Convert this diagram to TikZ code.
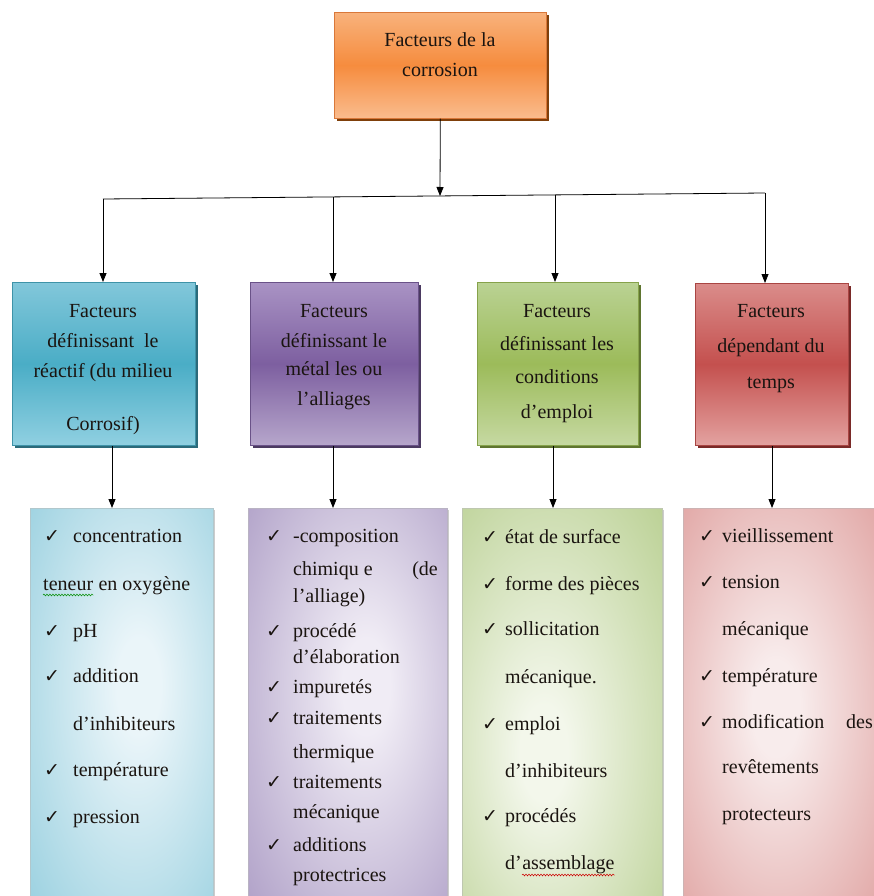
\documentclass[tikz,border=0pt]{standalone}
\usepackage{fontspec}
\setmainfont{Liberation Serif}
\newfontfamily\chkfont{DejaVu Sans}
\usetikzlibrary{arrows.meta,shadows,decorations.pathmorphing}
\definecolor{orT}{HTML}{F8B27C}\definecolor{orM}{HTML}{F68C3E}\definecolor{orB}{HTML}{FABC8E}\definecolor{orS}{HTML}{7F3F0A}\definecolor{orD}{HTML}{D9783A}
\definecolor{blT}{HTML}{82C7DA}\definecolor{blM}{HTML}{4AADC6}\definecolor{blB}{HTML}{90D0E1}\definecolor{blS}{HTML}{2B6A7A}\definecolor{blD}{HTML}{3E93A8}
\definecolor{puT}{HTML}{A993C4}\definecolor{puM}{HTML}{7D5FA0}\definecolor{puB}{HTML}{B6A6CB}\definecolor{puS}{HTML}{4B3A61}\definecolor{puD}{HTML}{6A5288}
\definecolor{grT}{HTML}{BAD293}\definecolor{grM}{HTML}{9CBB5A}\definecolor{grB}{HTML}{C6D9A2}\definecolor{grS}{HTML}{5F7530}\definecolor{grD}{HTML}{86A24A}
\definecolor{reT}{HTML}{DA8C8A}\definecolor{reM}{HTML}{C4504E}\definecolor{reB}{HTML}{E3A2A0}\definecolor{reS}{HTML}{7A2A28}\definecolor{reD}{HTML}{A94543}
\definecolor{lbI}{HTML}{EAF5F9}\definecolor{lbO}{HTML}{8ECBDC}
\definecolor{lpI}{HTML}{F0ECF5}\definecolor{lpO}{HTML}{A594C0}
\definecolor{lgI}{HTML}{F3F7EB}\definecolor{lgO}{HTML}{B4CC8A}
\definecolor{lrI}{HTML}{F8ECEC}\definecolor{lrO}{HTML}{DB9492}
\definecolor{txtc}{HTML}{1A1410}
\pgfdeclareradialshading{softB}{\pgfpoint{5bp}{3bp}}{color(0bp)=(lbI); color(6bp)=(lbI); color(44bp)=(lbO); color(80bp)=(lbO)}
\pgfdeclareradialshading{softP}{\pgfpoint{5bp}{3bp}}{color(0bp)=(lpI); color(6bp)=(lpI); color(44bp)=(lpO); color(80bp)=(lpO)}
\pgfdeclareradialshading{softG}{\pgfpoint{-5bp}{-6bp}}{color(0bp)=(lgI); color(6bp)=(lgI); color(44bp)=(lgO); color(80bp)=(lgO)}
\pgfdeclareradialshading{softR}{\pgfpoint{-2bp}{0bp}}{color(0bp)=(lrI); color(6bp)=(lrI); color(44bp)=(lrO); color(80bp)=(lrO)}
\begin{document}
\begin{tikzpicture}[x=1pt,y=-1pt,
  box/.style={rectangle, inner sep=0pt, anchor=north west, line width=0.6pt},
  txt/.style={inner sep=0pt, text=txtc, font=\fontsize{20}{24}\selectfont, anchor=base},
  ltxt/.style={txt, anchor=base west},
  rtxt/.style={txt, anchor=base east},
  chk/.style={inner sep=0pt, text=txtc, font=\chkfont\fontsize{19}{22}\selectfont, anchor=base west},
  conn/.style={line width=0.8pt, draw=black},
  arr/.style={conn, -{Triangle[length=9pt,width=7pt]}},
  wavy/.style={line width=0.5pt, decorate, decoration={snake, amplitude=0.9pt, segment length=3pt}}
]
\useasboundingbox (0,0) rectangle (873,896);
\fill[white] (0,0) rectangle (873,896);

% ---- top box
\node[box, minimum width=212pt, minimum height=106pt, draw=orD, top color=orT, bottom color=orB, middle color=orM,
  drop shadow={shadow xshift=3pt, shadow yshift=-3pt, fill=orS, opacity=1}] (top) at (334,12) {};
\node[txt] (t1) at (440,47) {Facteurs de la};
\node[txt] (t2) at (440,77) {corrosion};

% ---- middle boxes
\node[box, minimum width=183pt, minimum height=163pt, draw=blD, top color=blT, bottom color=blB, middle color=blM,
  drop shadow={shadow xshift=3pt, shadow yshift=-3pt, fill=blS, opacity=1}] (m1) at (12,282) {};
\node[box, minimum width=168pt, minimum height=163pt, draw=puD, top color=puT, bottom color=puB, middle color=puM,
  drop shadow={shadow xshift=3pt, shadow yshift=-3pt, fill=puS, opacity=1}] (m2) at (250,282) {};
\node[box, minimum width=161pt, minimum height=163pt, draw=grD, top color=grT, bottom color=grB, middle color=grM,
  drop shadow={shadow xshift=3pt, shadow yshift=-3pt, fill=grS, opacity=1}] (m3) at (477,282) {};
\node[box, minimum width=153pt, minimum height=162pt, draw=reD, top color=reT, bottom color=reB, middle color=reM,
  drop shadow={shadow xshift=3pt, shadow yshift=-3pt, fill=reS, opacity=1}] (m4) at (695,283) {};

\node[txt] (m1a) at (103,317) {Facteurs};
\node[txt] (m1b) at (103,347) {définissant\ \ le};
\node[txt] (m1c) at (103,377) {réactif (du milieu};
\node[txt] (m1d) at (103,430) {Corrosif)};

\node[txt] (m2a) at (334,317) {Facteurs};
\node[txt] (m2b) at (334,347) {définissant le};
\node[txt] (m2c) at (334,375) {métal les ou};
\node[txt] (m2d) at (334,405) {l'alliages};

\node[txt] (m3a) at (557,317) {Facteurs};
\node[txt] (m3b) at (557,350) {définissant les};
\node[txt] (m3c) at (557,383) {conditions};
\node[txt] (m3d) at (557,418) {d'emploi};

\node[txt] (m4a) at (771,317) {Facteurs};
\node[txt] (m4b) at (771,352) {dépendant du};
\node[txt] (m4c) at (771,388) {temps};

% ---- bottom boxes
\node[box, minimum width=183pt, minimum height=400pt, draw=lbO!70!black!50, shading=softB,
  drop shadow={shadow xshift=2pt, shadow yshift=-2pt, fill=black!20, opacity=1}] (l1) at (30,508) {};
\node[box, minimum width=199pt, minimum height=400pt, draw=lpO!70!black!50, shading=softP,
  drop shadow={shadow xshift=2pt, shadow yshift=-2pt, fill=black!20, opacity=1}] (l2) at (248,508) {};
\node[box, minimum width=200pt, minimum height=400pt, draw=lgO!70!black!50, shading=softG,
  drop shadow={shadow xshift=2pt, shadow yshift=-2pt, fill=black!20, opacity=1}] (l3) at (462,508) {};
\node[box, minimum width=200pt, minimum height=400pt, draw=lrO!70!black!50, shading=softR,
  drop shadow={shadow xshift=2pt, shadow yshift=-2pt, fill=black!20, opacity=1}] (l4) at (683,508) {};

% blue list
\node[chk] (c11) at (44,542) {✓}; \node[ltxt] (b11) at (73,542) {concentration};
\node[ltxt] (b12a) at (43,590) {teneur}; \node[ltxt] (b12b) at (b12a.base east) {\ en oxygène};
\node[chk] (c13) at (44,637) {✓}; \node[ltxt] (b13) at (73,637) {pH};
\node[chk] (c14) at (44,682) {✓}; \node[ltxt] (b14) at (73,682) {addition};
\node[ltxt] (b15) at (73,730) {d'inhibiteurs};
\node[chk] (c16) at (44,776) {✓}; \node[ltxt] (b16) at (73,776) {température};
\node[chk] (c17) at (44,823) {✓}; \node[ltxt] (b17) at (73,823) {pression};
\draw[wavy, draw=green!55!black] ([yshift=-5pt]b12a.base west) -- ([yshift=-5pt]b12a.base east);

% purple list
\node[chk] (c21) at (266,542) {✓}; \node[ltxt] (p21) at (293,542) {-composition};
\node[ltxt] (p22) at (293,575) {chimiqu e}; \node[rtxt] (p22b) at (438,575) {(de};
\node[ltxt] (p23) at (293,602) {l’alliage)};
\node[chk] (c24) at (266,637) {✓}; \node[ltxt] (p24) at (293,637) {procédé};
\node[ltxt] (p25) at (293,663) {d'élaboration};
\node[chk] (c26) at (266,693) {✓}; \node[ltxt] (p26) at (293,693) {impuretés};
\node[chk] (c27) at (266,724) {✓}; \node[ltxt] (p27) at (293,724) {traitements};
\node[ltxt] (p28) at (293,758) {thermique};
\node[chk] (c29) at (266,788) {✓}; \node[ltxt] (p29) at (293,788) {traitements};
\node[ltxt] (p210) at (293,818) {mécanique};
\node[chk] (c211) at (266,851) {✓}; \node[ltxt] (p211) at (293,851) {additions};
\node[ltxt] (p212) at (293,881) {protectrices};

% green list
\node[chk] (c31) at (482,543) {✓}; \node[ltxt] (g31) at (505,543) {état de surface};
\node[chk] (c32) at (482,590) {✓}; \node[ltxt] (g32) at (505,590) {forme des pièces};
\node[chk] (c33) at (482,635) {✓}; \node[ltxt] (g33) at (505,635) {sollicitation};
\node[ltxt] (g34) at (505,683) {mécanique.};
\node[chk] (c35) at (482,730) {✓}; \node[ltxt] (g35) at (505,730) {emploi};
\node[ltxt] (g36) at (505,777) {d'inhibiteurs};
\node[chk] (c37) at (482,822) {✓}; \node[ltxt] (g37) at (505,822) {procédés};
\node[ltxt] (g38a) at (505,869) {d'}; \node[ltxt] (g38b) at (g38a.base east) {assemblage};
\draw[wavy, draw=red!80!black] ([yshift=-6pt]g38b.base west) -- ([yshift=-6pt]g38b.base east);

% red list
\node[chk] (c41) at (699,542) {✓}; \node[ltxt] (r41) at (722,542) {vieillissement};
\node[chk] (c42) at (699,588) {✓}; \node[ltxt] (r42) at (722,588) {tension};
\node[ltxt] (r43) at (722,635) {mécanique};
\node[chk] (c44) at (699,682) {✓}; \node[ltxt] (r44) at (722,682) {température};
\node[chk] (c45) at (699,728) {✓}; \node[ltxt] (r45) at (722,728) {modification}; \node[rtxt] (r45b) at (873,728) {des};
\node[ltxt] (r46) at (722,773) {revêtements};
\node[ltxt] (r47) at (722,820) {protecteurs};

% ---- connectors
\coordinate (jl) at (103,199);
\coordinate (jr) at (765,193);
\coordinate (jc) at (440,196);
\coordinate (j2) at (333,197);
\coordinate (j3) at (555,195);
\draw[conn] (jl) -- (jr);
\draw[arr] (top.south) -- (jc);
\draw[arr] (jl) -- (jl |- m1.north);
\draw[arr] (j2) -- (j2 |- m2.north);
\draw[arr] (j3) -- (j3 |- m3.north);
\draw[arr] (jr) -- (jr |- m4.north);

\coordinate (a1) at (112,0);
\coordinate (a2) at (333,0);
\coordinate (a3) at (553,0);
\coordinate (a4) at (772,0);
\draw[arr] (m1.south -| a1) -- (l1.north -| a1);
\draw[arr] (m2.south -| a2) -- (l2.north -| a2);
\draw[arr] (m3.south -| a3) -- (l3.north -| a3);
\draw[arr] (m4.south -| a4) -- (l4.north -| a4);
\end{tikzpicture}
\end{document}
